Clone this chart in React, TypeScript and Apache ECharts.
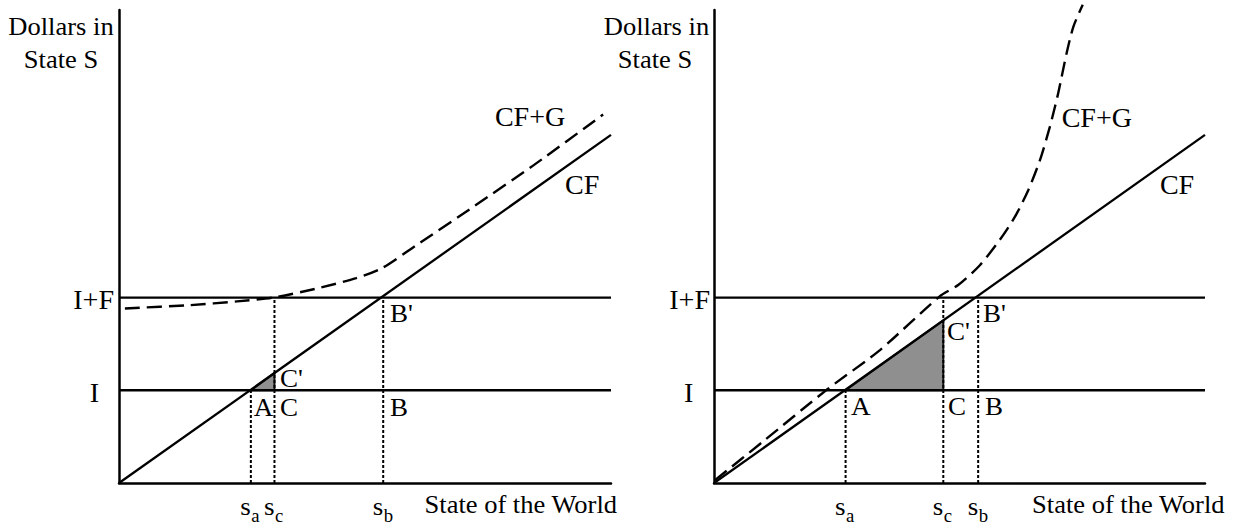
import React, { useEffect, useRef } from "react";
import * as echarts from "echarts";

// ---------- data (both axes run 0..100 in each panel) ----------
const AXIS_MAX = 100;
const LEVEL_I = 19.6; // "I"
const LEVEL_I_F = 39.2; // "I+F"
const CF_LINE: number[][] = [
  [0, 0],
  [100, 73.6],
];

// left panel
const LEFT_STATES = { sa: 26.8, sc: 31.6, sb: 53.7 };
const LEFT_CF_G: number[][] = [
  [1.2, 36.9], [14.4, 37.6], [24.0, 38.4], [31.3, 39.2], [40.1, 41.1],
  [48.2, 43.3], [53.4, 45.4], [60.2, 50.1], [72.3, 58.6], [84.3, 67.2], [98.4, 77.9],
];

// right panel
const RIGHT_STATES = { sa: 26.8, sc: 46.7, sb: 53.8 };
const RIGHT_CF_G: number[][] = [
  [0.2, 0.6], [9.9, 8.7], [22.95, 19.7], [33.8, 28.1], [45.9, 39.4], [49.8, 41.9],
  [54.2, 46.1], [58.2, 51.4], [61.3, 56.3], [64.0, 61.9], [66.4, 68.3], [68.4, 75.3],
  [70.1, 82.4], [71.8, 90.8], [73.2, 96.5], [75.1, 101.1],
];

// tick / point labels
const Y_TICK_LABELS = ["I", "I+F"];
const X_TICK_LABELS = [
  ["s", "a"],
  ["s", "c"],
  ["s", "b"],
];
const POINT_LABELS = ["A", "C", "C'", "B", "B'"];
const CURVE_LABELS = ["CF", "CF+G"];
const Y_TITLE = ["Dollars in", "State S"];
const X_TITLE = "State of the World";

// ---------- helpers ----------
const cfAt = (x: number) => {
  const [p0, p1] = CF_LINE;
  return p0[1] + ((x - p0[0]) * (p1[1] - p0[1])) / (p1[0] - p0[0]);
};

const FONT_FAMILY = "Liberation Serif";
const SX = 1.04;

type Panel = {
  grid: { left: number; top: number; width: number; height: number };
  states: { sa: number; sc: number; sb: number };
  cfg: number[][];
  lay: any;
};

const PANELS: Panel[] = [
  {
    grid: { left: 119, top: 10, width: 492, height: 473 },
    states: LEFT_STATES,
    cfg: LEFT_CF_G,
    lay: {
      title1: [-58, 17], title2: [-58, 49.5],
      iF: [-5, 2.5], i: [-20, 2],
      A: [3, 16.5], C: [5.5, 16.5], Cp: [5.5, 5], B: [6.8, 16.4], Bp: [6.8, 16],
      CF: [3.2, 15], CFG: [76.4, 77.4], xTitle: [6, 22],
    },
  },
  {
    grid: { left: 714, top: 10, width: 491, height: 473 },
    states: RIGHT_STATES,
    cfg: RIGHT_CF_G,
    lay: {
      title1: [-57.5, 17], title2: [-59, 49.5],
      iF: [-4, 1.7], i: [-20.7, 2],
      A: [5.4, 15.7], C: [4.7, 15.7], Cp: [3.7, 10.7], B: [6.8, 15.7], Bp: [4.8, 16],
      CF: [4, 15.4], CFG: [70.8, 77.3], xTitle: [19.5, 22],
    },
  },
];

const black = "#000";

function buildSeries(p: Panel, g: number) {
  const s: any[] = [];
  const base = {
    type: "line",
    xAxisIndex: g,
    yAxisIndex: g,
    symbol: "none",
    silent: true,
    clip: false,
    animation: false,
  };
  // gray triangle A-C-C'
  const tri = [
    [p.states.sa, LEVEL_I],
    [p.states.sc, LEVEL_I],
    [p.states.sc, cfAt(p.states.sc)],
  ];
  s.push({
    type: "custom",
    xAxisIndex: g,
    yAxisIndex: g,
    silent: true,
    z: 1,
    data: [tri[0]],
    renderItem: (_params: any, api: any) => ({
      type: "polygon",
      shape: { points: tri.map((pt) => api.coord(pt)) },
      style: { fill: "#8f8f8f", stroke: "#111", lineWidth: 2 },
    }),
  });
  // horizontal levels
  [LEVEL_I, LEVEL_I_F].forEach((lv) =>
    s.push({
      ...base,
      z: 3,
      data: [
        [0, lv],
        [AXIS_MAX, lv],
      ],
      lineStyle: { color: black, width: 2.4 },
    })
  );
  // dotted verticals
  const verts = [
    [p.states.sa, LEVEL_I],
    [p.states.sc, LEVEL_I_F],
    [p.states.sb, LEVEL_I_F],
  ];
  verts.forEach(([x, top]) =>
    s.push({
      ...base,
      z: 2,
      data: [
        [x, 0],
        [x, top],
      ],
      lineStyle: { color: black, width: 2, type: [3, 2] },
    })
  );
  // CF
  s.push({
    ...base,
    z: 4,
    data: CF_LINE,
    lineStyle: { color: black, width: 2.3 },
  });
  // CF+G
  s.push({
    ...base,
    z: 4,
    data: p.cfg,
    smooth: 0.25,
    lineStyle: { color: black, width: 2.4, type: [15, 7] },
  });
  return s;
}

export default function App() {
  const ref = useRef<HTMLDivElement>(null);
  useEffect(() => {
    if (!ref.current) return;
    const chart = echarts.init(ref.current, null, { renderer: "svg" });
    const axisCommon = {
      type: "value",
      min: 0,
      max: AXIS_MAX,
      axisLine: { show: true, onZero: false, lineStyle: { color: black, width: 2.5 } },
      axisTick: { show: false },
      axisLabel: { show: false },
      splitLine: { show: false },
    };
    chart.setOption({
      animation: false,
      backgroundColor: "#fff",
      grid: PANELS.map((p) => ({ ...p.grid, containLabel: false })),
      xAxis: PANELS.map((_p, g) => ({ ...axisCommon, gridIndex: g })),
      yAxis: PANELS.map((_p, g) => ({ ...axisCommon, gridIndex: g })),
      series: PANELS.flatMap((p, g) => buildSeries(p, g)),
    });

    const graphics: any[] = [];
    const txt = (
      g: number,
      at: number[],
      off: number[],
      text: string,
      align: string,
      size = 26,
      sx = SX
    ) => {
      const [px, py] = chart.convertToPixel({ gridIndex: g } as any, at) as number[];
      graphics.push({
        type: "text",
        x: px + off[0],
        y: py + off[1],
        scaleX: sx,
        silent: true,
        z: 10,
        style: {
          text,
          fill: black,
          fontFamily: FONT_FAMILY,
          fontSize: size,
          fontWeight: "normal",
          align,
          verticalAlign: "middle",
        },
      });
    };

    PANELS.forEach((p, g) => {
      const L = p.lay;
      const st = p.states;
      txt(g, [0, AXIS_MAX], L.title1, Y_TITLE[0], "center", 26, 1.02);
      txt(g, [0, AXIS_MAX], L.title2, Y_TITLE[1], "center", 26, 1.02);
      txt(g, [0, LEVEL_I_F], L.iF, Y_TICK_LABELS[1], "right", 27);
      txt(g, [0, LEVEL_I], L.i, Y_TICK_LABELS[0], "right", 27);
      txt(g, [st.sa, LEVEL_I], L.A, POINT_LABELS[0], "left");
      txt(g, [st.sc, LEVEL_I], L.C, POINT_LABELS[1], "left");
      txt(g, [st.sc, cfAt(st.sc)], L.Cp, POINT_LABELS[2], "left");
      txt(g, [st.sb, LEVEL_I], L.B, POINT_LABELS[3], "left");
      txt(g, [st.sb, LEVEL_I_F], L.Bp, POINT_LABELS[4], "left");
      txt(g, [90, cfAt(90)], L.CF, CURVE_LABELS[0], "left", 27);
      txt(g, L.CFG, [0, 0], CURVE_LABELS[1], "left", 27);
      [st.sa, st.sc, st.sb].forEach((x, k) => {
        txt(g, [x, 0], [0, 23], X_TICK_LABELS[k][0], "right", 26);
        txt(g, [x, 0], [0.5, 33], X_TICK_LABELS[k][1], "left", 18);
      });
      txt(g, [AXIS_MAX, 0], L.xTitle, X_TITLE, "right", 26, 1.02);
    });

    chart.setOption({ graphic: graphics });
    return () => chart.dispose();
  }, []);

  return (
    <div
      ref={ref}
      style={{ position: "fixed", left: 0, top: 0, width: 1238, height: 529, background: "#fff" }}
    />
  );
}
